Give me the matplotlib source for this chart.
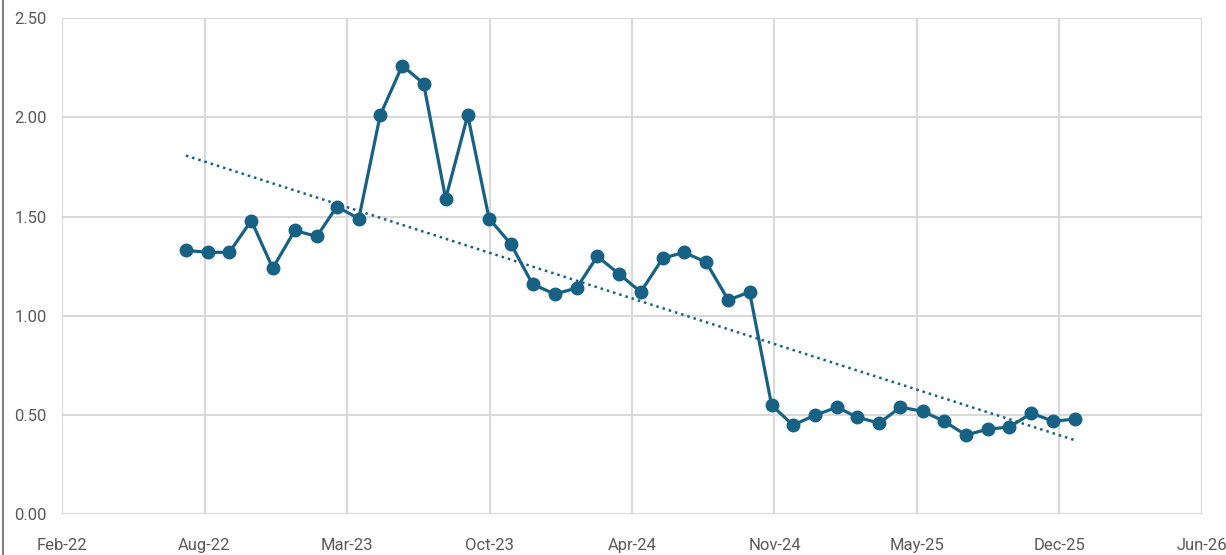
import numpy as np
import pandas as pd
import matplotlib
matplotlib.use("Agg")
import matplotlib.pyplot as plt
import matplotlib.dates as mdates
from matplotlib.lines import Line2D

# monthly observations, Jul-2022 .. Dec-2025 (month-end dates)
dates = pd.date_range("2022-07-31", periods=42, freq="ME")
values = [1.33, 1.32, 1.32, 1.48, 1.24, 1.43, 1.40, 1.55, 1.49, 2.01,
          2.26, 2.17, 1.59, 2.01, 1.49, 1.36, 1.16, 1.11, 1.14, 1.30,
          1.21, 1.12, 1.29, 1.32, 1.27, 1.08, 1.12, 0.55, 0.45, 0.50,
          0.54, 0.49, 0.46, 0.54, 0.52, 0.47, 0.40, 0.43, 0.44, 0.51,
          0.47, 0.48]
tick_labels = ["Feb-22", "Aug-22", "Mar-23", "Oct-23", "Apr-24",
               "Nov-24", "May-25", "Dec-25", "Jun-26"]
y_ticks = [0.0, 0.5, 1.0, 1.5, 2.0, 2.5]

LINE = "#176185"
GRID = "#d9d9d9"
TXT = "#595959"

plt.rcParams["font.family"] = ["Roboto", "DejaVu Sans"]

fig = plt.figure(figsize=(12.26, 5.55), dpi=100)
ax = fig.add_axes([0.0506, 0.073, 0.9298, 0.8946])

x = mdates.date2num(dates.to_pydatetime())
y = np.array(values)
ax.plot(x, y, "-o", color=LINE, lw=2.3, ms=9, zorder=3)

# linear trend (as Excel's linear trendline)
k, b = np.polyfit(x, y, 1)
xt = np.array([x[0], x[-1]])
ax.plot(xt, k * xt + b, color=LINE, lw=1.8, ls=(0, (1, 1.6)), zorder=2)

# axis: 8 equal steps starting early Feb-22
x0 = mdates.date2num(pd.Timestamp("2022-02-07").to_pydatetime())
step = 200.2
ticks = [x0 + i * step for i in range(len(tick_labels))]
ax.set_xlim(ticks[0], ticks[-1])
ax.set_xticks(ticks)
ax.set_xticklabels(tick_labels)
ax.set_ylim(0, 2.5)
ax.set_yticks(y_ticks)
ax.set_yticklabels([f"{v:.2f}" for v in y_ticks])

ax.grid(True, color=GRID, lw=1.5)
ax.set_axisbelow(True)
for s in ax.spines.values():
    s.set_visible(False)
ax.tick_params(length=0, labelsize=12, colors=TXT)
ax.tick_params(axis="x", pad=17)
ax.tick_params(axis="y", pad=11)

# chart frame edge at the far left
fig.add_artist(Line2D([3 / 1226, 3 / 1226], [0, 1], color="#7f7f7f", lw=1.5))

fig.savefig("out.png", dpi=100)
